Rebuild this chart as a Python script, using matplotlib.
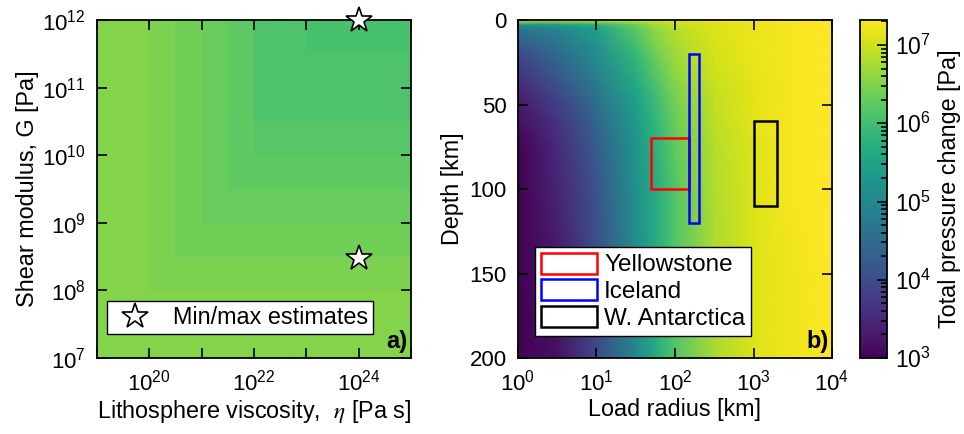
import numpy as np
import matplotlib
matplotlib.use('Agg')
import matplotlib.pyplot as plt
from matplotlib.colors import LogNorm
from matplotlib.patches import Rectangle
from matplotlib.lines import Line2D
from matplotlib.ticker import FixedLocator, FuncFormatter, NullFormatter

plt.rcParams['font.family'] = 'Liberation Sans'
plt.rcParams['font.size'] = 16.8
plt.rcParams['xtick.labelsize'] = 16
plt.rcParams['ytick.labelsize'] = 16
plt.rcParams['mathtext.fontset'] = 'stix'
plt.rcParams['axes.linewidth'] = 1.3

# colour scale of the total pressure change [Pa]
P_MIN = 1e3
P_MAX = 10 ** 7.32

# ---- panel a: half-decade cells, log10 of pressure change [Pa]
eta_edge_exp = np.arange(19.0, 25.01, 0.5)   # lithosphere viscosity [Pa s]
G_edge_exp = np.arange(7.0, 12.01, 0.5)      # shear modulus [Pa]
log_p_a = [  # rows: G from 1e7 upwards, cols: eta from 1e19 upwards
    [6.52, 6.52, 6.52, 6.52, 6.52, 6.52, 6.52, 6.52, 6.52, 6.52, 6.52, 6.52],
    [6.52, 6.52, 6.52, 6.52, 6.52, 6.52, 6.52, 6.52, 6.52, 6.52, 6.52, 6.52],
    [6.52, 6.52, 6.46, 6.46, 6.46, 6.46, 6.46, 6.46, 6.46, 6.46, 6.46, 6.46],
    [6.52, 6.52, 6.46, 6.38, 6.38, 6.38, 6.38, 6.38, 6.38, 6.38, 6.38, 6.38],
    [6.52, 6.52, 6.46, 6.38, 6.31, 6.31, 6.31, 6.31, 6.31, 6.31, 6.31, 6.31],
    [6.52, 6.52, 6.46, 6.38, 6.31, 6.24, 6.24, 6.24, 6.24, 6.24, 6.24, 6.24],
    [6.52, 6.52, 6.46, 6.38, 6.31, 6.24, 6.18, 6.18, 6.18, 6.18, 6.18, 6.18],
    [6.52, 6.52, 6.46, 6.38, 6.31, 6.24, 6.12, 6.12, 6.12, 6.12, 6.12, 6.12],
    [6.52, 6.52, 6.46, 6.38, 6.31, 6.24, 6.12, 6.12, 6.12, 6.12, 6.12, 6.12],
    [6.52, 6.52, 6.46, 6.38, 6.31, 6.24, 6.12, 6.12, 6.07, 6.07, 6.07, 6.07],
]
star_eta = [1e24, 1e24]
star_G = [1e12, 3e8]

# ---- panel b: nodes of load radius [km] and depth [km], log10 pressure [Pa]
radius_km = [1, 3.16, 10, 31.6, 56.2, 100, 316, 1000, 3162, 10000]
depth_km = [0, 3, 6, 15, 24, 36, 47, 59, 75, 100, 150, 200]
log_p_b = [
    [6.89, 6.93, 6.97, 7.02, 7.06, 7.10, 7.19, 7.23, 7.28, 7.32],
    [5.16, 5.29, 5.68, 6.37, 6.72, 6.93, 7.10, 7.19, 7.28, 7.32],
    [4.64, 4.94, 5.42, 6.20, 6.59, 6.84, 7.10, 7.19, 7.28, 7.32],
    [4.17, 4.64, 5.20, 6.02, 6.46, 6.76, 7.06, 7.19, 7.28, 7.32],
    [3.86, 4.38, 5.03, 5.81, 6.28, 6.67, 7.02, 7.19, 7.28, 7.32],
    [3.56, 4.12, 4.81, 5.64, 6.11, 6.54, 6.97, 7.15, 7.28, 7.32],
    [3.35, 3.86, 4.60, 5.46, 5.94, 6.41, 6.93, 7.15, 7.28, 7.32],
    [3.17, 3.65, 4.43, 5.33, 5.85, 6.33, 6.89, 7.15, 7.28, 7.32],
    [2.80, 3.52, 4.25, 5.25, 5.76, 6.24, 6.84, 7.10, 7.28, 7.32],
    [2.60, 3.43, 4.12, 5.16, 5.64, 6.15, 6.80, 7.10, 7.28, 7.32],
    [2.20, 3.26, 3.99, 5.07, 5.64, 6.15, 6.76, 7.10, 7.23, 7.32],
    [1.70, 3.17, 3.95, 4.99, 5.64, 6.15, 6.76, 7.10, 7.23, 7.32],
]

# regions: (name, colour, radius min, radius max, depth min, depth max)
regions = [
    ('Yellowstone', 'red', 50, 150, 70, 100),
    ('Iceland', 'blue', 150, 200, 20, 120),
    ('W. Antarctica', 'black', 1000, 2000, 60, 110),
]


def pow10(v, pos):
    return r'$\mathregular{10^{%d}}$' % round(np.log10(v))


def style_axis(ax):
    ax.tick_params(which='both', direction='in', top=True, right=True, width=1.2)
    ax.tick_params(which='major', length=7.5, pad=8)
    ax.tick_params(which='minor', length=4)


norm = LogNorm(vmin=P_MIN, vmax=P_MAX)
fig = plt.figure(figsize=(9.64, 4.34), dpi=100)

# ---------------- panel a
ax_a = fig.add_axes([0.1006, 0.1751, 0.3257, 0.7788])
ax_a.pcolormesh(10 ** eta_edge_exp, 10 ** G_edge_exp, 10 ** np.array(log_p_a),
                cmap='viridis', norm=norm, shading='flat')
ax_a.plot(star_eta, star_G, linestyle='none', marker='*', ms=19,
          mfc='white', mec='black', mew=1.2, clip_on=False, zorder=5)
ax_a.set_xscale('log')
ax_a.set_yscale('log')
ax_a.set_xlim(1e19, 1e25)
ax_a.set_ylim(1e7, 1e12)
ax_a.xaxis.set_major_locator(FixedLocator([1e20, 1e22, 1e24]))
ax_a.xaxis.set_minor_locator(FixedLocator([1e19, 1e21, 1e23, 1e25]))
ax_a.xaxis.set_minor_formatter(NullFormatter())
ax_a.yaxis.set_major_locator(FixedLocator([1e7, 1e8, 1e9, 1e10, 1e11, 1e12]))
ax_a.yaxis.set_minor_locator(FixedLocator([]))
ax_a.xaxis.set_major_formatter(FuncFormatter(pow10))
ax_a.yaxis.set_major_formatter(FuncFormatter(pow10))
style_axis(ax_a)
ax_a.tick_params(which='minor', length=7.5)
ax_a.set_xlabel(r'Lithosphere viscosity,  $\eta$ [Pa s]', labelpad=2)
ax_a.set_ylabel('Shear modulus, G [Pa]', labelpad=2)
star_handle = Line2D([], [], linestyle='none', marker='*', ms=19,
                     mfc='white', mec='black', mew=1.2)
leg_a = ax_a.legend([star_handle], ['Min/max estimates'], loc='lower left',
                    bbox_to_anchor=(0.032, 0.071), borderaxespad=0,
                    fancybox=False, edgecolor='black', framealpha=1,
                    handletextpad=0.6, borderpad=0.22)
leg_a.get_frame().set_linewidth(1.0)
ax_a.text(0.99, 0.015, 'a)', transform=ax_a.transAxes, ha='right', va='bottom',
          fontweight='bold', fontsize=17)

# ---------------- panel b
ax_b = fig.add_axes([0.5373, 0.1751, 0.3258, 0.7788])
R, D = np.meshgrid(radius_km, depth_km)
mesh = ax_b.pcolormesh(R, D, 10 ** np.array(log_p_b), cmap='viridis',
                       norm=norm, shading='gouraud')
handles = []
for name, color, r0, r1, d0, d1 in regions:
    ax_b.add_patch(Rectangle((r0, d0), r1 - r0, d1 - d0, fill=False,
                             edgecolor=color, linewidth=1.8, zorder=4))
    handles.append(Rectangle((0, 0), 1, 1, fill=False, edgecolor=color,
                             linewidth=1.8, label=name))
ax_b.set_xscale('log')
ax_b.set_xlim(1, 1e4)
ax_b.set_ylim(200, 0)
ax_b.xaxis.set_major_locator(FixedLocator([1, 10, 100, 1000, 10000]))
ax_b.set_yticks([0, 50, 100, 150, 200])
ax_b.xaxis.set_major_formatter(FuncFormatter(pow10))
style_axis(ax_b)
ax_b.set_xlabel('Load radius [km]', labelpad=2)
ax_b.set_ylabel('Depth [km]', labelpad=4)
leg_b = ax_b.legend(handles=handles, loc='lower left',
                    bbox_to_anchor=(0.054, 0.065), borderaxespad=0,
                    fancybox=False, edgecolor='black', framealpha=1,
                    fontsize=17.5, handlelength=2.3, handleheight=0.95,
                    handletextpad=0.3, labelspacing=0.12, borderpad=0.25)
leg_b.get_frame().set_linewidth(1.0)
ax_b.text(0.99, 0.015, 'b)', transform=ax_b.transAxes, ha='right', va='bottom',
          fontweight='bold', fontsize=17)

# ---------------- colour bar
cax = fig.add_axes([0.8921, 0.1751, 0.028, 0.7788])
cb = fig.colorbar(mesh, cax=cax)
cb.outline.set_linewidth(1.3)
cax.yaxis.set_major_formatter(FuncFormatter(pow10))
cax.tick_params(which='both', direction='in', width=1.2, labelsize=16.5)
cax.tick_params(which='major', length=7.5, pad=6)
cax.tick_params(which='minor', length=4)
cb.set_label('Total pressure change [Pa]', labelpad=5)

fig.savefig('out.png', dpi=100)
